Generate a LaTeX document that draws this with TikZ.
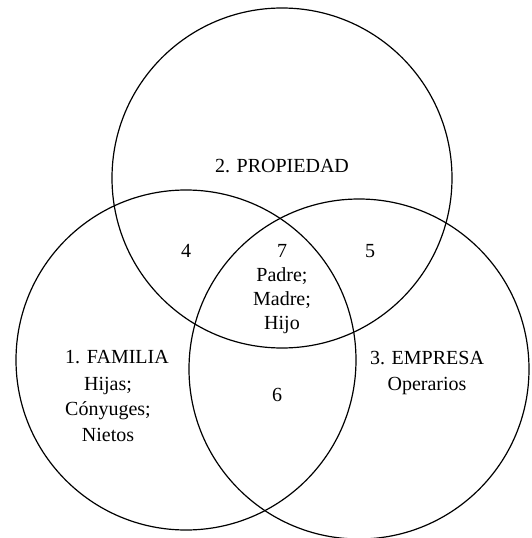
\documentclass[tikz,border=0pt]{standalone}
\usepackage{fontspec}
\setmainfont{Liberation Serif}
\usetikzlibrary{positioning}

\begin{document}
\begin{tikzpicture}[x=1pt,y=-1pt,node distance=24pt,
  set node/.style={circle,draw,line width=1.2pt,minimum size=340pt,inner sep=0pt},
  label node/.style={font=\fontsize{20}{24}\selectfont,inner sep=0pt,
    text height=14pt,text depth=5pt}]
  \useasboundingbox (0,0) rectangle (531,538);
  % the three sets
  \node[set node] (propiedad) at (282,178) {};
  \node[set node] (familia) at (186,360) {};
  \node[set node] (empresa) at (359,369) {};
  % set titles
  \node[label node] (propiedad_t) at (282,167.5) {2. PROPIEDAD};
  \node[label node] (familia_t) at (117,358.5) {1. FAMILIA};
  \node[label node] (empresa_t) at (427,359.5) {3. EMPRESA};
  % regions
  \node[label node] (reg_4) at (186,252.5) {4};
  \node[label node] (reg_7) at (282,252.5) {7};
  \node[label node] (reg_5) at (370,252.5) {5};
  \node[label node] (reg_6) at (277,396.5) {6};
  % members
  \node[label node] (padre) [below of=reg_7] {Padre;};
  \node[label node] (madre) [below of=padre] {Madre;};
  \node[label node] (hijo) [below of=madre] {Hijo};
  \node[label node] (hijas) at (108,385.5) {Hijas;};
  \node[label node] (conyuges) [below of=hijas, node distance=25.5pt] {Cónyuges;};
  \node[label node] (nietos) [below of=conyuges, node distance=25.5pt] {Nietos};
  \node[label node] (operarios) at (427,385.5) {Operarios};
\end{tikzpicture}
\end{document}
